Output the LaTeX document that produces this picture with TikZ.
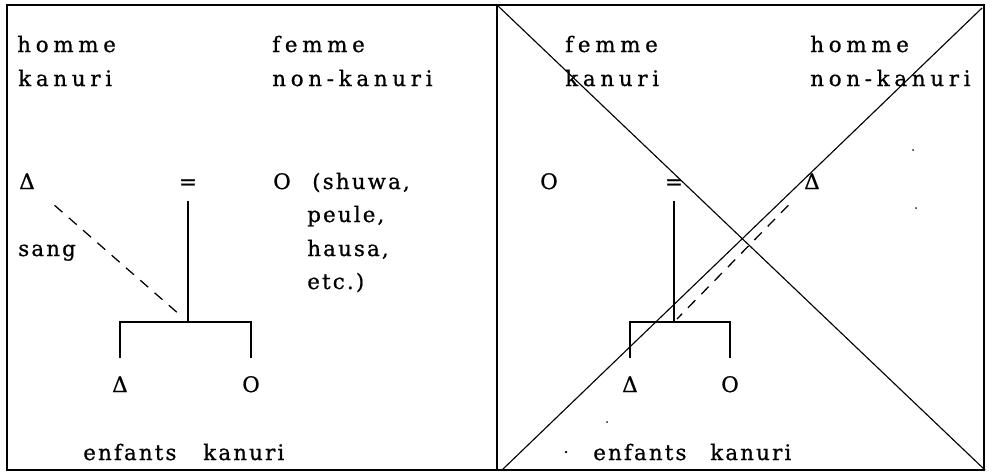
\documentclass[tikz,border=0pt]{standalone}
\usepackage{fontspec}
\setmainfont[FakeBold=0.8]{DejaVu Serif}
\newfontfamily\enteteFont[LetterSpace=22,FakeBold=0.8]{DejaVu Serif}
\newfontfamily\corpsFont[LetterSpace=10,FakeBold=0.8]{DejaVu Serif}

\begin{document}
\begin{tikzpicture}[
        x=0.025cm,
        y=-0.025cm,
        panelBox/.style={
            line width=1.1pt
        },
        crossLine/.style={
            line width=0.8pt
        },
        headText/.style={
            anchor=base west,
            inner sep=0pt,
            font=\enteteFont\fontsize{15.2}{18}\selectfont
        },
        bodyText/.style={
            anchor=base west,
            inner sep=0pt,
            font=\corpsFont\fontsize{15.2}{18}\selectfont
        },
        kinSymbol/.style={
            anchor=base,
            inner sep=0pt,
            font=\fontsize{15.2}{18}\selectfont
        },
        descentLine/.style={
            line width=0.9pt
        },
        bloodLine/.style={
            line width=0.9pt,
            dash pattern=on 7.5pt off 6pt
        }
    ]

        \useasboundingbox (0,0) rectangle (992,474);

        \draw[panelBox] (7,5) rectangle (497,470);
        \draw[panelBox] (497,5) rectangle (984,470);

        % panneau gauche
        \node[headText] (hommeG) at (17,52) {homme};
        \node[headText] (kanuriG) at (18,86) {kanuri};
        \node[headText] (femmeG) at (272,52) {femme};
        \node[headText] (nonKanuriG) at (272,86) {non-kanuri};

        \node[kinSymbol] (pereG) at (27,189) {Δ};
        \node[kinSymbol] (egalG) at (188,189) {=};
        \node[kinSymbol] (mereG) at (282,189) {O};
        \node[bodyText] (shuwaG) at (312,189) {(shuwa,};
        \node[bodyText] (peuleG) at (307,222) {peule,};
        \node[bodyText] (hausaG) at (307,256) {hausa,};
        \node[bodyText] (etcG) at (307,289) {etc.)};
        \node[bodyText] (sangG) at (18,256) {sang};

        \coordinate (jonctionG) at (188,322);
        \node[kinSymbol] (filsG) at (120,392) {Δ};
        \node[kinSymbol] (filleG) at (251,392) {O};

        \draw[descentLine, shorten <=8pt] (egalG.south) -- (jonctionG);
        \draw[descentLine, shorten <=13pt, shorten >=13pt] (filsG.north) |- (jonctionG) -| (filleG.north);
        \draw[bloodLine, shorten <=26pt, shorten >=7pt] (pereG.center) -- (jonctionG);

        \node[bodyText] (enfantsG) at (83,460) {enfants};
        \node[bodyText] (kanuriEnfG) at (203,460) {kanuri};

        % panneau droit
        \node[headText] (femmeD) at (565,52) {femme};
        \node[headText] (kanuriD) at (565,86) {kanuri};
        \node[headText] (hommeD) at (810,52) {homme};
        \node[headText] (nonKanuriD) at (810,86) {non-kanuri};

        \node[kinSymbol] (mereD) at (549,189) {O};
        \node[kinSymbol] (egalD) at (674,189) {=};
        \node[kinSymbol] (pereD) at (812,189) {Δ};

        \coordinate (jonctionD) at (674,322);
        \node[kinSymbol] (filsD) at (630,392) {Δ};
        \node[kinSymbol] (filleD) at (730,392) {O};

        \draw[descentLine, shorten <=8pt] (egalD.south) -- (jonctionD);
        \draw[descentLine, shorten <=13pt, shorten >=13pt] (filsD.north) |- (jonctionD) -| (filleD.north);
        \draw[bloodLine, shorten <=24pt, shorten >=3pt] (pereD.center) -- (jonctionD);

        \node[bodyText] (enfantsD) at (593,460) {enfants};
        \node[bodyText] (kanuriEnfD) at (710,460) {kanuri};

        % croix
        \draw[crossLine] (497,5) -- (985,470);
        \draw[crossLine] (982,8) -- (502,470);

        \fill (566,452) circle (0.9pt);
        \fill (607,422) circle (0.7pt);
        \fill (913,150) circle (0.7pt);
        \fill (916,208) circle (0.7pt);

    \end{tikzpicture}
\end{document}
